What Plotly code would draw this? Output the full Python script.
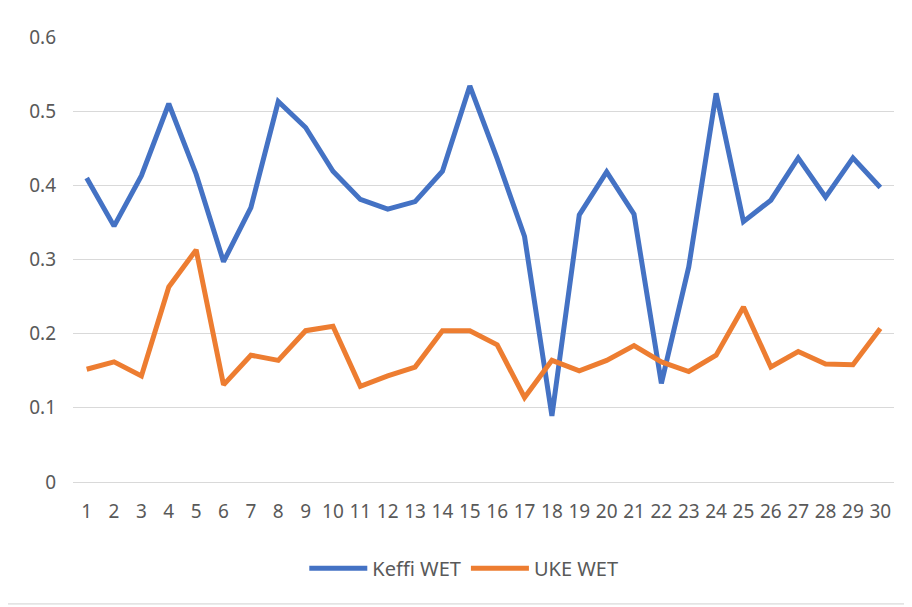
import plotly.graph_objects as go

days = list(range(1, 31))
keffi_wet = [0.41, 0.345, 0.413, 0.51, 0.415, 0.297, 0.37, 0.513, 0.478, 0.419,
             0.381, 0.368, 0.378, 0.419, 0.534, 0.436, 0.331, 0.089, 0.36, 0.418,
             0.361, 0.133, 0.29, 0.524, 0.351, 0.38, 0.437, 0.384, 0.437, 0.397]
uke_wet = [0.152, 0.162, 0.143, 0.263, 0.313, 0.131, 0.171, 0.164, 0.204, 0.210,
           0.129, 0.143, 0.155, 0.204, 0.204, 0.185, 0.114, 0.164, 0.150, 0.164,
           0.184, 0.162, 0.149, 0.171, 0.236, 0.155, 0.176, 0.159, 0.158, 0.207]
y_ticks = [0, 0.1, 0.2, 0.3, 0.4, 0.5, 0.6]
y_labels = ["0", "0.1", "0.2", "0.3", "0.4", "0.5", "0.6"]

fig = go.Figure()
fig.add_trace(go.Scatter(x=days, y=keffi_wet, mode="lines", name="Keffi WET",
                         line=dict(color="#4472C4", width=5)))
fig.add_trace(go.Scatter(x=days, y=uke_wet, mode="lines", name="UKE WET",
                         line=dict(color="#ED7D31", width=5)))

font_family = "Noto Sans, Open Sans, sans-serif"
fig.update_layout(
    width=912, height=607,
    margin=dict(l=65, r=26, t=29, b=133),
    paper_bgcolor="white", plot_bgcolor="white",
    font=dict(family=font_family, size=19, color="#595959"),
    showlegend=True,
    legend=dict(orientation="h", x=0.476, xanchor="center", y=-0.194, yanchor="middle",
                font=dict(size=20, color="#595959"), itemwidth=58, traceorder="normal"),
    xaxis=dict(range=[0.5, 30.5], tickmode="array", tickvals=days,
               ticktext=[str(d) for d in days], tickangle=0, showgrid=False,
               zeroline=False, showline=False, ticks="", ticklabelstandoff=16,
               tickfont=dict(size=19)),
    yaxis=dict(range=[0, 0.6], tickmode="array", tickvals=y_ticks, ticktext=y_labels,
               showgrid=True, gridcolor="#D9D9D9", gridwidth=1, zeroline=True,
               zerolinecolor="#D9D9D9", zerolinewidth=1, showline=False, ticks="",
               ticklabelstandoff=16, tickfont=dict(size=19)),
    shapes=[dict(type="rect", xref="paper", yref="paper",
                 x0=-0.0804, x1=1.0146, y0=-0.274, y1=1.067,
                 line=dict(color="#D0D0D0", width=1), fillcolor="rgba(0,0,0,0)",
                 layer="below")],
)

fig.write_html("out.html")
